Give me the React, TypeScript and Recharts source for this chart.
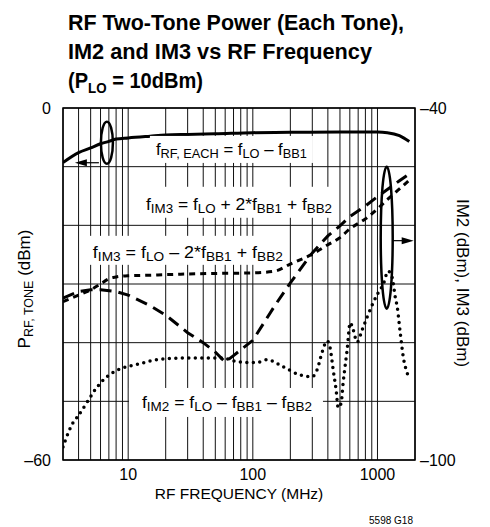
import React from 'react';
import { LineChart, Line, XAxis, YAxis, CartesianGrid, ReferenceDot, ReferenceArea } from 'recharts';

// ---------- data ----------
const freqTicks = [4, 5, 6, 7, 8, 9, 10, 20, 30, 40, 50, 60, 70, 80, 90, 100, 200, 300, 400, 500, 600, 700, 800, 900, 1000];
const freqLabels = [10, 100, 1000];
const leftTicks = [-60, -50, -40, -30, -20, -10, 0];
const leftLabels = [-60, 0];
const rightTicks = [-100, -40];

// RF tone power (left axis, dBm)
const rfFreq = [3, 4, 5, 6, 7, 8, 10, 15, 20, 30, 50, 100, 200, 500, 1000, 1200, 1500, 1800];
const rfTone = [-9.3, -7.6, -6.8, -6.1, -5.7, -5.3, -5.1, -4.8, -4.6, -4.5, -4.4, -4.2, -4.15, -4.1, -4.1, -4.2, -4.7, -5.7];

// IM3 = fLO + 2*fBB1 + fBB2 (right axis, long dash)
const im3pFreq = [3, 4, 5, 6, 8, 10, 15, 20, 30, 40, 50, 60, 70, 100, 150, 200, 300, 400, 500, 600, 800, 1000, 1200, 1500, 1750];
const im3pVal = [-72.4, -71.3, -71.0, -71.0, -71.3, -71.9, -73.7, -75.3, -78.3, -80.0, -81.6, -83.3, -82.2, -79.6, -73.7, -69.8, -64.7, -61.8, -60.1, -58.5, -56.7, -55.1, -53.9, -52.4, -51.4];

// IM3 = fLO - 2*fBB1 + fBB2 (right axis, short dash)
const im3mFreq = [3, 4, 5, 6, 7, 8, 10, 15, 20, 30, 50, 100, 150, 200, 300, 400, 500, 600, 800, 1000, 1200, 1500, 1800];
const im3mVal = [-73.0, -71.9, -71.0, -70.0, -69.1, -68.8, -68.6, -68.5, -68.4, -68.3, -68.2, -68.1, -67.8, -66.6, -64.9, -63.3, -62.1, -60.6, -58.9, -57.2, -55.6, -53.8, -52.3];

// IM2 = fLO - fBB1 - fBB2 (right axis, dotted)
const im2Freq = [3, 3.3, 3.6, 3.9, 4.7, 5.4, 6.3, 7.4, 9.1, 12.4, 17, 31, 55, 79, 108, 130, 175, 239, 299, 328, 360, 394, 417, 441, 466, 484, 511, 530, 571, 604, 638, 687, 754, 827, 924, 1013, 1111, 1219, 1312, 1388, 1440, 1522, 1609, 1733, 1800];
const im2Val = [-97.8, -95.4, -93.7, -92.7, -90.1, -88.1, -86.4, -85.2, -84.3, -83.6, -82.9, -82.6, -82.6, -83.3, -83.4, -82.9, -84.1, -85.5, -85.8, -84.6, -81.6, -79.7, -80.9, -84.6, -88.1, -91.1, -90.3, -86.9, -81.2, -76.6, -77.8, -79.9, -77.8, -75.6, -73.2, -71.5, -70.1, -67.8, -68.9, -72.2, -73.9, -78.3, -82.4, -85.2, -86.2];

// text labels
type Part = [string, boolean];
const rfLabel: Part[] = [['f', false], ['RF, EACH', true], [' = f', false], ['LO', true], [' – f', false], ['BB1', true]];
const im3pLabel: Part[] = [['f', false], ['IM3', true], [' = f', false], ['LO', true], [' + 2*f', false], ['BB1', true], [' + f', false], ['BB2', true]];
const im3mLabel: Part[] = [['f', false], ['IM3', true], [' = f', false], ['LO', true], [' – 2*f', false], ['BB1', true], [' + f', false], ['BB2', true]];
const im2Label: Part[] = [['f', false], ['IM2', true], [' = f', false], ['LO', true], [' – f', false], ['BB1', true], [' – f', false], ['BB2', true]];

const toRows = (fs: number[], vs: number[]) => fs.map((f, i) => ({ f, v: vs[i] }));
const rfData = toRows(rfFreq, rfTone);
const im3pData = toRows(im3pFreq, im3pVal);
const im3mData = toRows(im3mFreq, im3mVal);
const im2Data = toRows(im2Freq, im2Val);

// ---------- style ----------
const FONT = '"Liberation Sans", Arial, Helvetica, sans-serif';
const dash = (v: number) => (v < 0 ? '–' + Math.abs(v) : String(v));

const renderParts = (parts: Part[], main: number, sub: number, shift: number) => {
  let cur = 0;
  return parts.map(([t, isSub], i) => {
    const target = isSub ? shift : 0;
    const dy = target - cur;
    cur = target;
    return (
      <tspan key={i} fontSize={isSub ? sub : main} dy={dy}>
        {t}
      </tspan>
    );
  });
};

const makeLabel = (parts: Part[], w: number, padL: number, padR: number, top: number, bottom: number) => (props: any) => {
  const { cx, cy } = props;
  if (cx == null || cy == null) return <g />;
  return (
    <g>
      <rect x={cx - padL} y={cy - top} width={w + padL + padR} height={top + bottom} fill="#fff" />
      <text x={cx} y={cy} fontFamily={FONT} fill="#000" style={{ whiteSpace: 'pre' }} textLength={w} lengthAdjust="spacingAndGlyphs">
        {renderParts(parts, 17, 13, 3)}
      </text>
    </g>
  );
};

const makeEllipse = (rx: number, ry: number, dx1: number, dx2: number, ady: number) => (props: any) => {
  const { cx, cy } = props;
  if (cx == null || cy == null) return <g />;
  const dir = Math.sign(dx2 - dx1);
  const ax1 = cx + dx1;
  const ax2 = cx + dx2;
  const ay = cy + ady;
  return (
    <g>
      <ellipse cx={cx} cy={cy} rx={rx} ry={ry} fill="none" stroke="#000" strokeWidth={2.5} />
      <line x1={ax1} y1={ay} x2={ax2 - dir * 8} y2={ay} stroke="#000" strokeWidth={1.2} />
      <polygon points={`${ax2},${ay} ${ax2 - dir * 12},${ay - 3.5} ${ax2 - dir * 12},${ay + 3.5}`} fill="#000" />
    </g>
  );
};

const tickStyle = { fill: '#000', fontSize: 16, fontFamily: FONT };

export default function App() {
  return (
    <div style={{ position: 'absolute', left: 0, top: 0, width: 490, height: 527, background: '#fff' }}>
      <LineChart width={490} height={527} margin={{ top: 108, right: 35, bottom: 37, left: 23 }}>
        <CartesianGrid yAxisId="left" stroke="#111" strokeWidth={1} />
        <XAxis
          dataKey="f"
          type="number"
          scale="log"
          domain={[3, 2000]}
          allowDataOverflow
          ticks={freqTicks}
          interval={0}
          tickLine={false}
          axisLine={false}
          tickSize={0}
          tickMargin={9}
          height={30}
          tick={tickStyle}
          tickFormatter={(v: number) => (freqLabels.includes(v) ? String(v) : '')}
        />
        <YAxis
          yAxisId="left"
          type="number"
          domain={[-60, 0]}
          allowDataOverflow
          ticks={leftTicks}
          interval={0}
          width={40}
          tickLine={false}
          axisLine={false}
          tickSize={0}
          tickMargin={12}
          tick={tickStyle}
          tickFormatter={(v: number) => (leftLabels.includes(v) ? dash(v) : '')}
        />
        <YAxis
          yAxisId="right"
          orientation="right"
          type="number"
          domain={[-100, -40]}
          allowDataOverflow
          ticks={rightTicks}
          interval={0}
          width={40}
          tickLine={false}
          axisLine={false}
          tickSize={0}
          tickMargin={5}
          tick={tickStyle}
          tickFormatter={dash}
        />
        <ReferenceDot yAxisId="left" x={16.7} y={-8.0} r={0} ifOverflow="visible" shape={makeLabel(rfLabel, 151, 6, 6, 19, 8)} />
        <ReferenceDot yAxisId="left" x={13.9} y={-17.35} r={0} ifOverflow="visible" shape={makeLabel(im3pLabel, 186, 6, 6, 23, 8)} />
        <ReferenceDot yAxisId="left" x={5.21} y={-25.54} r={0} ifOverflow="visible" shape={makeLabel(im3mLabel, 190, 6, 2, 22, 7)} />
        <ReferenceDot yAxisId="left" x={12.9} y={-51.13} r={0} ifOverflow="visible" shape={makeLabel(im2Label, 170, 13, 11, 20, 9)} />
        <ReferenceArea yAxisId="left" x1={3} x2={2000} y1={-60} y2={0} fill="none" fillOpacity={0} stroke="#000" strokeWidth={1.5} ifOverflow="visible" />
        <Line yAxisId="left" data={rfData} dataKey="v" type="monotone" stroke="#000" strokeWidth={3} dot={false} activeDot={false} isAnimationActive={false} />
        <Line yAxisId="right" data={im3pData} dataKey="v" type="linear" stroke="#000" strokeWidth={3} strokeDasharray="12 7" dot={false} activeDot={false} isAnimationActive={false} />
        <Line yAxisId="right" data={im3mData} dataKey="v" type="monotone" stroke="#000" strokeWidth={3} strokeDasharray="6 5" dot={false} activeDot={false} isAnimationActive={false} />
        <Line yAxisId="right" data={im2Data} dataKey="v" type="monotone" stroke="#000" strokeWidth={3.5} strokeDasharray="0 6.5" strokeLinecap="round" dot={false} activeDot={false} isAnimationActive={false} />
        <ReferenceDot yAxisId="left" x={6.75} y={-5.92} r={0} ifOverflow="visible" shape={makeEllipse(6, 21, -8, -32, 20)} />
        <ReferenceDot yAxisId="right" x={1186} y={-62.1} r={0} ifOverflow="visible" shape={makeEllipse(6, 71, 6, 27, 3)} />
      </LineChart>
      <svg width={490} height={527} style={{ position: 'absolute', left: 0, top: 0, pointerEvents: 'none' }} fontFamily={FONT}>
        <text x={68} y={29.5} fontSize={22.5} fontWeight="bold" textLength={336} lengthAdjust="spacingAndGlyphs">
          RF Two-Tone Power (Each Tone),
        </text>
        <text x={68} y={58.5} fontSize={22.5} fontWeight="bold" textLength={304} lengthAdjust="spacingAndGlyphs">
          IM2 and IM3 vs RF Frequency
        </text>
        <text x={68} y={87.5} fontSize={22.5} fontWeight="bold" textLength={135} lengthAdjust="spacingAndGlyphs" style={{ whiteSpace: 'pre' }}>
          <tspan>(P</tspan>
          <tspan fontSize={15} dy={5}>LO</tspan>
          <tspan dy={-5}> = 10dBm)</tspan>
        </text>
        <text x={239} y={499} fontSize={15.5} textAnchor="middle">
          RF FREQUENCY (MHz)
        </text>
        <text transform="translate(30,289) rotate(-90)" fontSize={17} textAnchor="middle" style={{ whiteSpace: 'pre' }}>
          <tspan>P</tspan>
          <tspan fontSize={12.5} dy={3}>RF, TONE</tspan>
          <tspan dy={-3}> (dBm)</tspan>
        </text>
        <text transform="translate(457,283) rotate(90)" fontSize={17} textAnchor="middle">
          IM2 (dBm), IM3 (dBm)
        </text>
        <text x={391} y={524} fontSize={10} textAnchor="middle">
          5598 G18
        </text>
      </svg>
    </div>
  );
}
